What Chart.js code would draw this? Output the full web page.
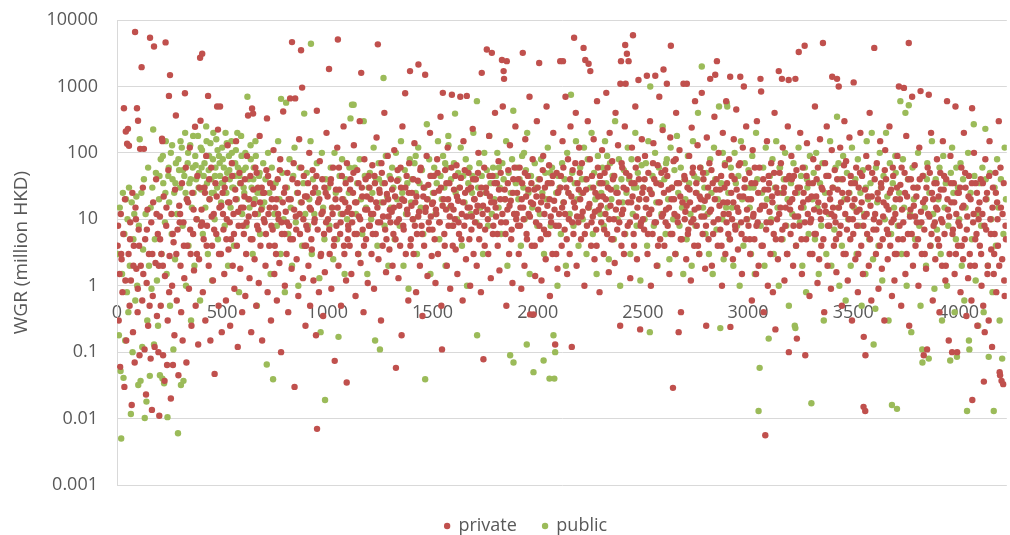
<!DOCTYPE html>
<html>
<head>
<meta charset="utf-8">
<script src="https://cdn.jsdelivr.net/npm/chart.js@4.4.1/dist/chart.umd.min.js"></script>
<style>
html,body{margin:0;padding:0;background:#fff;}
canvas{display:block;}
</style>
</head>
<body>
<canvas id="c" width="1010" height="535"></canvas>
<script>
const seriesNames = ['private', 'public'];
const seriesColors = ['#C0504D', '#9BBB59'];
const yTitle = 'WGR (million HKD)';
const xTicks = [0, 500, 1000, 1500, 2000, 2500, 3000, 3500, 4000];
const yTicks = [0.001, 0.01, 0.1, 1, 10, 100, 1000, 10000];
const yTickLabels = ['0.001', '0.01', '0.1', '1', '10', '100', '1000', '10000'];

const privatePoints = [
[3,4],[8,0.3],[12,1.5],[15,0.06],[18,12],[22,2.5],[26,0.8],[30,6],[33,470],[35,0.03],[38,20],[42,210],[44,0.15],[48,137],[52,230],[55,3],[57,128],[60,0.5],[63,9],[66,1.2],[70,0.016],[73,25],[76,0.2],[80,4],[84,0.07],[86,6600],[88,15],[92,1.8],[95,470],[98,0.4],
[100,305],[103,7],[107,0.09],[110,115],[113,2],[117,1950],[120,0.6],[123,30],[128,115],[131,0.11],[134,5],[138,0.023],[141,1.1],[145,14],[148,0.25],[152,3],[157,5400],[160,0.08],[163,9],[166,0.0135],[170,0.7],[172,18],[176,4000],[179,0.12],[183,2.2],[186,40],[190,0.35],[194,6],[197,0.1],
[201,0.011],[204,11],[208,0.5],[211,3],[214,163],[216,150],[219,0.09],[222,22],[226,0.037],[228,1.4],[231,4600],[234,8],[238,0.064],[241,0.3],[244,55],[247,720],[250,2.8],[252,1480],[256,0.02],[259,12],[262,1],[266,0.064],[269,4.5],[273,0.18],[276,28],[280,365],[284,0.6],[288,7],[292,0.045],[296,16],
[302,2],[305,0.4],[309,35],[312,0.15],[316,9],[320,1.3],[323,790],[327,60],[330,0.07],[334,4],[338,18],[342,0.9],[346,120],[350,3],[354,0.25],[358,25],[362,6],[366,1.7],[371,247],[374,0.5],[378,10],[382,45],[386,0.13],[390,2.5],[395,2700],[397,305],
[402,14],[405,3100],[408,0.8],[412,5],[416,30],[420,0.3],[424,90],[428,8],[433,720],[436,2],[440,20],[444,0.15],[448,60],[452,4],[456,1.2],[460,12],[464,0.047],[468,35],[472,6],[476,500],[480,224],[483,0.5],[487,15],[490,500],[494,3],[498,0.2],
[502,25],[506,7],[510,1.5],[514,40],[518,0.6],[522,10],[526,130],[530,3.5],[534,18],[538,0.25],[542,5],[546,70],[550,2],[554,12],[558,0.9],[562,28],[566,150],[570,4],[574,0.12],[578,8],[582,50],[586,1.8],[590,15],[595,0.4],
[603,6],[606,22],[610,0.7],[614,3],[618,90],[623,365],[626,11],[630,1.3],[634,45],[638,0.2],[642,465],[644,5],[647,390],[650,17],[654,2.5],[658,60],[662,0.5],[666,8],[670,30],[674,1.1],[678,180],[682,4],[686,14],[690,0.15],[695,25],
[702,9],[706,2],[710,55],[713,330],[716,0.8],[720,12],[724,4],[728,35],[732,0.3],[736,20],[740,7],[744,110],[748,1.5],[752,15],[756,3],[760,0.6],[764,40],[768,10],[772,2.2],[776,80],[780,0.1],[784,6],[790,420],[794,25],[798,1],
[802,13],[806,3],[810,50],[814,0.4],[818,8],[823,660],[826,20],[830,1.8],[832,4650],[836,5],[840,70],[844,0.03],[847,660],[850,11],[854,2.5],[858,35],[862,0.7],[866,160],[870,6],[875,3500],[878,18],[880,960],[884,1.3],[888,45],[892,4],[896,0.25],
[902,22],[906,7],[910,2],[914,100],[918,0.5],[922,14],[926,3.5],[930,55],[934,1.2],[938,9],[942,30],[946,0.18],[950,430],[951,0.007],[956,18],[960,0.8],[964,75],[968,2.8],[972,12],[976,40],[980,0.35],[984,6],[988,1.6],[992,25],[996,200],
[1003,10],[1008,1830],[1011,3],[1015,35],[1019,0.9],[1023,15],[1027,60],[1031,4],[1035,0.074],[1039,20],[1043,8],[1047,120],[1050,5100],[1053,2],[1057,28],[1061,6],[1065,0.5],[1069,45],[1073,12],[1077,250],[1081,3],[1085,18],[1089,1.2],[1092,0.035],[1093,70],[1097,5],
[1102,15],[1106,4],[1110,40],[1114,1.5],[1118,9],[1122,25],[1126,130],[1130,6],[1134,0.7],[1138,18],[1142,55],[1146,3],[1150,11],[1154,300],[1158,2.2],[1161,1600],[1164,30],[1168,7],[1172,0.4],[1176,80],[1180,14],[1184,5],[1188,22],[1192,1.1],[1196,45],
[1202,8],[1206,20],[1210,3],[1214,65],[1218,12],[1222,0.9],[1226,35],[1230,6],[1234,170],[1238,15],[1240,4300],[1243,2.5],[1247,28],[1251,9],[1255,0.3],[1259,50],[1263,4],[1267,18],[1271,400],[1275,7],[1279,1.6],[1283,24],[1287,90],[1291,11],[1295,3.5],
[1302,40],[1306,13],[1310,2],[1314,6],[1318,110],[1322,22],[1326,0.058],[1330,9],[1334,55],[1338,1.3],[1342,16],[1346,4],[1350,30],[1353,0.18],[1357,250],[1361,8],[1365,19],[1370,790],[1373,3],[1377,45],[1381,12],[1385,0.6],[1389,70],[1393,1700],[1397,5],
[1402,25],[1406,10],[1410,3],[1414,140],[1418,18],[1422,0.8],[1426,6],[1430,38],[1433,2140],[1436,13],[1440,2],[1444,60],[1448,8],[1452,0.35],[1456,22],[1460,4],[1465,1500],[1468,15],[1472,90],[1476,1.4],[1480,33],[1484,7],[1488,200],[1492,11],[1496,2.8],
[1502,18],[1506,45],[1510,5],[1514,1.1],[1518,12],[1522,80],[1526,3],[1530,27],[1534,9],[1538,350],[1542,0.5],[1545,0.11],[1549,800],[1552,20],[1556,6],[1560,55],[1564,14],[1568,2],[1572,120],[1576,8],[1580,35],[1584,0.9],[1588,16],[1592,750],[1596,4],
[1602,28],[1606,10],[1610,3.5],[1614,65],[1618,1.5],[1622,19],[1626,6],[1632,700],[1635,42],[1639,12],[1643,0.6],[1647,150],[1651,8],[1655,25],[1659,2.5],[1663,720],[1667,15],[1671,50],[1675,5],[1679,1],[1683,30],[1687,11],[1691,230],[1695,3],[1698,20],
[1702,9],[1706,40],[1710,2],[1714,16],[1718,100],[1722,5],[1726,24],[1730,0.8],[1734,1600],[1738,12],[1742,0.078],[1746,60],[1750,7],[1754,30],[1758,3600],[1761,14],[1765,3],[1769,180],[1773,22],[1777,1.3],[1782,3200],[1785,45],[1789,8],[1793,18],[1797,400],
[1802,11],[1806,35],[1810,4],[1814,75],[1818,1.7],[1822,20],[1826,9],[1830,2500],[1834,500],[1838,1700],[1840,1300],[1843,28],[1847,6],[1851,0.5],[1853,2400],[1856,14],[1860,55],[1864,3],[1868,130],[1872,19],[1876,7],[1880,1.1],[1884,40],[1888,12],[1894,250],
[1902,25],[1906,8],[1910,3],[1914,60],[1918,15],[1922,0.9],[1926,35],[1929,3200],[1933,10],[1937,2],[1941,160],[1945,22],[1949,5],[1953,45],[1957,12],[1961,700],[1964,0.37],[1968,18],[1972,4],[1976,80],[1980,0.37],[1984,28],[1988,1.4],[1992,9],[1996,300],
[2002,14],[2007,2250],[2010,40],[2014,5],[2018,1.2],[2022,22],[2026,90],[2030,7],[2034,30],[2038,2.5],[2042,500],[2046,16],[2050,6],[2054,65],[2058,0.7],[2062,11],[2066,35],[2070,3],[2074,200],[2078,19],[2083,0.13],[2086,8],[2090,50],[2094,1.8],[2098,26],
[2102,12],[2107,2400],[2110,45],[2114,4],[2118,150],[2120,2400],[2124,18],[2128,7],[2132,700],[2136,30],[2140,1.5],[2144,80],[2148,10],[2152,3],[2156,250],[2160,22],[2162,0.12],[2166,55],[2170,6],[2173,5400],[2177,15],[2181,400],[2185,2],[2189,35],[2193,9],[2197,120],
[2202,20],[2206,5],[2210,70],[2214,13],[2218,3800],[2222,1],[2226,2500],[2230,28],[2234,8],[2238,300],[2242,2200],[2246,17],[2250,1700],[2254,4],[2258,45],[2262,11],[2266,160],[2270,2.5],[2274,25],[2278,7],[2282,600],[2286,60],[2290,14],[2294,0.8],[2298,35],
[2302,9],[2306,110],[2310,22],[2314,3],[2318,50],[2322,12],[2326,800],[2330,6],[2334,30],[2338,1.6],[2342,200],[2346,16],[2350,5],[2354,75],[2358,40],[2362,10],[2366,2.2],[2370,400],[2374,25],[2378,7],[2382,130],[2386,18],[2392,0.25],[2393,1100],[2396,2400],[2398,4],
[2402,60],[2406,14],[2410,3],[2414,250],[2416,4200],[2418,1100],[2422,28],[2424,3100],[2428,8],[2432,2400],[2436,45],[2440,1.3],[2444,18],[2448,120],[2453,5900],[2456,6],[2460,35],[2464,500],[2468,11],[2472,2.5],[2476,80],[2479,1250],[2483,20],[2487,0.22],[2491,9],[2495,160],
[2502,30],[2506,7],[2510,90],[2514,15],[2519,1450],[2522,3],[2526,50],[2530,12],[2534,300],[2538,1],[2542,24],[2546,6],[2550,140],[2554,40],[2559,1450],[2562,9],[2566,2],[2570,65],[2574,18],[2578,700],[2582,5],[2586,33],[2590,11],[2594,220],[2598,1800],
[2602,4],[2606,55],[2610,14],[2614,1100],[2618,8],[2622,28],[2626,1.5],[2630,170],[2633,4100],[2636,20],[2640,6],[2643,0.029],[2646,75],[2650,12],[2654,3],[2658,400],[2662,35],[2666,9],[2670,0.2],[2674,110],[2678,22],[2681,0.4],[2685,5],[2693,1100],[2697,45],
[2702,13],[2706,2.5],[2709,1100],[2712,30],[2716,7],[2720,90],[2724,18],[2728,1.2],[2732,240],[2736,50],[2740,10],[2744,4],[2748,600],[2752,25],[2756,8],[2760,130],[2764,15],[2768,3],[2772,60],[2776,20],[2780,800],[2784,6],[2788,40],[2792,11],[2796,1.8],[2801,0.25],
[2804,170],[2808,22],[2812,5],[2816,70],[2820,1300],[2824,14],[2828,2],[2832,35],[2836,9],[2840,350],[2844,1500],[2848,28],[2852,2400],[2856,4],[2860,100],[2864,16],[2868,7],[2872,45],[2876,1],[2880,200],[2884,12],[2888,30],[2892,3],[2896,600],
[2902,18],[2906,6],[2910,80],[2915,1400],[2916,0.24],[2920,25],[2924,10],[2928,2.5],[2932,160],[2936,40],[2940,7],[2944,450],[2948,15],[2952,3.5],[2956,65],[2960,22],[2963,1400],[2967,9],[2971,1.5],[2975,120],[2980,1000],[2983,30],[2987,5],[2991,250],[2995,14],
[3002,8],[3006,50],[3010,3],[3014,20],[3018,0.6],[3022,110],[3026,12],[3030,5],[3034,35],[3038,1.5],[3042,300],[3046,9],[3050,2],[3054,60],[3059,1300],[3062,840],[3066,16],[3070,4],[3074,0.4],[3078,28],[3082,0.0056],[3086,7],[3090,150],[3094,1],[3098,45],
[3102,13],[3106,3],[3110,70],[3114,22],[3118,0.8],[3122,6],[3126,400],[3130,0.22],[3134,30],[3138,10],[3142,2.5],[3146,1700],[3150,50],[3154,15],[3158,5],[3161,1300],[3165,120],[3169,25],[3173,1.2],[3177,8],[3181,40],[3185,3],[3189,250],[3193,1250],[3194,0.1],[3198,18],
[3202,6],[3206,90],[3210,20],[3214,2],[3218,45],[3222,11],[3225,1300],[3228,4],[3232,0.16],[3236,30],[3241,3300],[3244,8],[3248,200],[3252,15],[3256,1.5],[3260,60],[3264,25],[3269,4100],[3272,0.09],[3276,5],[3280,140],[3284,12],[3288,35],[3292,0.7],[3296,9],
[3302,22],[3306,3],[3310,80],[3314,14],[3318,500],[3322,6],[3326,40],[3330,1.1],[3334,18],[3338,2.5],[3342,160],[3346,10],[3350,30],[3356,4500],[3358,5],[3362,0.4],[3366,70],[3370,13],[3374,250],[3378,2],[3382,45],[3386,8],[3390,20],[3394,0.9],[3398,110],
[3400,1400],[3404,15],[3408,4],[3412,55],[3416,9],[3420,1.6],[3423,1300],[3426,28],[3431,1000],[3434,6],[3438,120],[3442,18],[3446,0.5],[3450,40],[3454,3],[3458,300],[3462,12],[3466,75],[3470,7],[3474,1.2],[3478,25],[3482,170],[3486,5],[3490,35],[3494,0.3],[3498,10],
[3502,1150],[3506,20],[3510,2.5],[3514,60],[3518,8],[3522,0.8],[3526,30],[3530,14],[3534,200],[3538,4],[3542,45],[3546,1.5],[3549,0.015],[3550,0.17],[3553,11],[3557,0.013],[3558,0.09],[3562,90],[3566,6],[3570,22],[3574,2],[3578,400],[3582,16],[3586,0.6],[3590,50],[3596,7],
[3600,3800],[3604,12],[3608,3],[3612,70],[3616,25],[3620,0.9],[3624,9],[3628,150],[3632,35],[3636,1.8],[3640,5],[3644,18],[3648,0.3],[3652,110],[3656,40],[3660,7],[3664,2.5],[3668,14],[3672,250],[3676,4],[3680,28],[3684,0.7],[3688,60],[3692,10],[3696,1.2],
[3702,20],[3706,3],[3710,90],[3717,1000],[3720,8],[3724,33],[3728,0.5],[3732,14],[3736,5],[3741,950],[3744,50],[3748,1.5],[3752,180],[3756,22],[3760,6],[3764,4500],[3766,0.25],[3770,11],[3774,40],[3780,700],[3784,2],[3788,16],[3792,65],[3796,4],
[3802,9],[3806,30],[3810,1],[3814,120],[3820,850],[3822,13],[3826,3],[3830,45],[3835,0.09],[3838,7],[3842,20],[3846,1.8],[3851,0.11],[3854,60],[3859,750],[3862,11],[3866,4],[3870,200],[3874,25],[3878,0.6],[3882,8],[3886,35],[3890,2.5],[3894,15],[3898,80],
[3902,5],[3906,22],[3910,0.4],[3914,50],[3918,10],[3922,2],[3926,150],[3930,28],[3934,6],[3938,1.2],[3942,40],[3946,600],[3950,14],[3954,0.15],[3958,3],[3962,90],[3966,18],[3970,0.1],[3974,7],[3978,35],[3982,1.5],[3986,500],[3990,12],[3994,0.1],[3998,4],
[4002,25],[4006,8],[4010,0.8],[4014,60],[4018,15],[4022,2.5],[4026,200],[4030,5],[4034,30],[4038,0.35],[4042,11],[4046,1.3],[4050,45],[4054,3],[4058,20],[4062,0.6],[4065,470],[4066,0.019],[4070,9],[4074,100],[4078,2],[4082,35],[4086,6],[4090,0.25],[4094,14],
[4102,4],[4106,40],[4110,1],[4114,12],[4118,0.5],[4121,0.036],[4125,0.2],[4128,80],[4132,7],[4136,25],[4140,2],[4144,0.3],[4148,150],[4152,10],[4156,3.5],[4160,0.12],[4164,30],[4168,1.5],[4172,6],[4176,50],[4180,0.8],[4184,18],[4188,4],[4192,300],[4196,0.05],[4198,0.045],[4202,15],[4205,0.037],[4208,2.5],[4213,0.033],[4216,35],[4220,0.7],[4224,8],
[5,8],[20,3],[40,1.2],[62,5],[78,2],[90,10],[99,0.9],
[105,4],[125,1.5],[142,7],[155,0.5],[168,3],[188,12],[199,2],
[205,5],[218,2],[235,15],[248,0.8],[265,6],[282,3],[298,9],
[300,12],[318,4],[332,20],[348,7],[364,14],[380,3],[392,30],[399,8],
[404,9],[418,25],[426,4],[438,40],[450,11],[462,7],[474,22],[485,3],[496,16],
[504,12],[512,30],[520,5],[528,18],[536,9],[548,45],[556,6],[564,20],[576,13],[588,35],[598,8],
[601,15],[608,40],[616,9],[628,20],[636,5],[648,28],[656,12],[664,50],[672,7],[680,18],[688,30],[698,10],
[700,25],[708,6],[718,45],[726,15],[734,8],[742,30],[750,4],[758,20],[766,12],[774,55],[782,9],[788,18],[796,6],
[800,30],[808,9],[816,20],[824,5],[834,40],[842,14],[852,7],[860,25],[868,12],[876,60],[886,10],[894,22],[899,4],
[900,8],[908,35],[916,15],[924,5],[932,25],[940,10],[948,45],[954,7],[962,20],[970,3],[978,13],[986,30],[994,9],
[1001,22],[1009,7],[1017,40],[1025,12],[1033,5],[1041,28],[1049,15],[1055,60],[1063,9],[1071,20],[1079,4],[1087,35],[1095,13],[1099,8],
[1100,7],[1108,28],[1116,12],[1124,50],[1132,18],[1140,6],[1148,35],[1156,10],[1166,22],[1174,4],[1182,40],[1190,14],[1198,8],
[1200,30],[1208,12],[1216,6],[1224,45],[1232,18],[1241,9],[1249,25],[1257,70],[1265,11],[1273,35],[1281,5],[1289,20],[1297,14],
[1300,9],[1308,28],[1316,15],[1324,5],[1332,38],[1340,10],[1348,60],[1356,20],[1363,7],[1371,30],[1379,14],[1387,25],[1395,4],
[1400,16],[1408,40],[1416,8],[1424,22],[1432,11],[1442,55],[1450,6],[1458,30],[1466,13],[1474,20],[1482,9],[1490,45],[1498,17],
[1500,7],[1508,25],[1516,14],[1524,50],[1532,9],[1540,30],[1548,16],[1558,4],[1566,35],[1574,20],[1582,11],[1590,60],[1598,8],
[1600,14],[1608,45],[1616,22],[1624,9],[1630,30],[1637,5],[1645,18],[1653,55],[1661,11],[1669,28],[1677,15],[1685,7],[1693,40],
[1700,20],[1708,13],[1716,50],[1724,8],[1732,30],[1740,16],[1748,4],[1756,25],[1763,10],[1771,45],[1779,18],[1787,6],[1795,35],
[1800,15],[1808,6],[1816,28],[1824,50],[1832,12],[1845,20],[1849,9],[1858,35],[1866,16],[1874,5],[1882,25],[1890,60],[1898,10],
[1900,12],[1908,40],[1916,8],[1924,20],[1931,15],[1939,50],[1947,6],[1955,28],[1963,11],[1970,35],[1978,17],[1986,4],[1994,22],
[2000,30],[2008,8],[2016,18],[2024,55],[2032,12],[2040,6],[2048,35],[2056,20],[2064,9],[2072,45],[2080,14],[2088,3],[2096,25],
[2100,8],[2108,30],[2116,15],[2122,60],[2130,12],[2138,5],[2146,25],[2154,40],[2164,9],[2172,18],[2179,70],[2187,11],[2195,28],
[2200,50],[2208,11],[2216,25],[2224,6],[2232,40],[2240,15],[2248,80],[2256,9],[2264,30],[2272,13],[2280,4],[2288,22],[2296,45],
[2300,16],[2308,35],[2316,7],[2324,20],[2332,60],[2340,10],[2348,28],[2356,5],[2364,45],[2372,14],[2380,25],[2388,9],[2399,70],
[2400,12],[2408,30],[2412,6],[2420,50],[2430,18],[2438,9],[2446,35],[2451,22],[2458,4],[2466,60],[2474,15],[2481,40],[2489,8],[2497,25],
[2500,10],[2508,40],[2516,20],[2524,6],[2532,28],[2540,14],[2548,70],[2556,9],[2564,35],[2572,4],[2580,18],[2588,50],[2596,12],
[2600,25],[2608,9],[2616,45],[2624,15],[2632,6],[2638,30],[2648,20],[2656,80],[2664,11],[2672,35],[2680,5],[2688,18],[2699,10],
[2700,40],[2708,16],[2714,6],[2722,28],[2730,9],[2738,60],[2746,14],[2754,35],[2762,4],[2770,22],[2778,11],[2786,50],[2794,19],
[2800,8],[2810,30],[2818,13],[2826,55],[2834,6],[2842,20],[2850,40],[2858,10],[2866,28],[2874,4],[2882,18],[2890,65],[2898,9],
[2900,35],[2908,12],[2914,5],[2922,45],[2930,18],[2938,8],[2946,28],[2954,13],[2962,70],[2969,6],[2977,22],[2985,40],[2993,10],
[3000,20],[3008,5],[3016,35],[3024,11],[3032,60],[3040,8],[3048,25],[3056,14],[3064,4],[3072,40],[3080,16],[3088,9],[3096,28],
[3100,35],[3108,9],[3116,18],[3124,50],[3132,5],[3140,25],[3148,12],[3156,70],[3163,7],[3171,30],[3179,15],[3187,3],[3196,45],
[3200,14],[3208,40],[3216,8],[3224,25],[3230,55],[3238,11],[3246,30],[3254,5],[3262,18],[3270,9],[3278,45],[3286,20],[3294,3],
[3300,10],[3308,35],[3316,6],[3324,22],[3332,60],[3340,13],[3348,4],[3354,28],[3364,16],[3372,45],[3380,8],[3388,25],[3396,12],
[3402,30],[3410,11],[3418,5],[3424,40],[3432,15],[3440,8],[3448,25],[3456,65],[3464,3],[3472,20],[3480,10],[3488,45],[3496,16],
[3500,6],[3508,35],[3516,13],[3524,3],[3532,50],[3540,18],[3548,8],[3556,28],[3564,12],[3572,60],[3580,5],[3588,22],[3598,10],
[3602,40],[3610,7],[3618,20],[3626,4],[3634,30],[3642,11],[3650,55],[3658,16],[3666,6],[3674,25],[3682,9],[3690,45],[3698,3],
[3700,12],[3708,30],[3714,5],[3722,20],[3730,60],[3738,9],[3746,25],[3754,3],[3762,40],[3772,14],[3778,6],[3786,30],[3794,11],
[3800,22],[3808,5],[3816,40],[3824,9],[3832,18],[3840,3],[3848,30],[3856,12],[3864,50],[3872,6],[3880,20],[3888,9],[3896,35],
[3900,14],[3908,4],[3916,28],[3924,9],[3932,45],[3940,2],[3948,20],[3956,11],[3964,35],[3972,6],[3980,18],[3988,3],[3996,25],
[4000,9],[4008,30],[4016,4],[4024,16],[4032,50],[4040,7],[4048,22],[4056,2],[4064,35],[4072,12],[4080,5],[4088,25],[4096,10],
[4100,18],[4108,3],[4116,35],[4124,8],[4130,20],[4138,1.5],[4146,45],[4154,6],[4162,15],[4170,3],[4178,25],[4186,10],[4194,2],[4200,60],[4210,12],[4218,1.2],[4226,5]
];

const publicPoints = [
[4,3],[9,0.18],[13,15],[17,0.052],[20,0.005],[24,1.5],[28,25],[31,0.041],[35,6],[39,0.15],[43,20],[47,0.8],[50,10],[54,0.4],[57,30],[61,2],[66,0.0117],[70,18],[74,0.1],[78,5],[82,12],[87,0.6],[92,22],[96,1],
[101,0.032],[104,8],[108,160],[112,0.037],[116,25],[120,0.12],[124,3.5],[128,40],[132,0.0102],[136,12],[140,0.018],[144,0.3],[148,60],[152,2],[156,0.044],[160,15],[164,0.9],[168,30],[172,225],[176,0.13],[180,5],[185,50],[190,1.2],[195,0.25],
[200,20],[204,0.045],[208,80],[212,3],[216,0.04],[220,35],[224,0.034],[228,9],[232,150],[236,1.5],[240,0.0105],[244,45],[248,18],[252,0.5],[256,100],[260,6],[264,40],[268,0.11],[272,25],[276,2.5],[280,70],[285,12],[290,0.006],[295,55],
[300,30],[304,0.032],[308,120],[312,8],[316,0.037],[320,45],[324,200],[328,1],[332,20],[336,70],[340,4],[344,35],[348,130],[352,0.3],[356,15],[360,60],[364,25],[368,2],[372,90],[376,40],[380,10],[385,180],[390,50],[395,0.6],
[400,28],[404,110],[408,6],[412,45],[416,70],[420,15],[424,250],[428,35],[432,3],[436,55],[440,20],[444,140],[448,40],[452,1.2],[456,80],[460,25],[464,10],[468,60],[472,160],[476,30],[480,5],[485,90],[490,45],[495,18],
[500,120],[504,35],[508,60],[512,8],[516,200],[520,25],[524,50],[528,2],[532,90],[536,40],[540,15],[544,150],[548,30],[552,70],[556,4],[560,45],[565,110],[570,20],[575,60],[580,0.8],[585,35],[590,180],[595,12],
[600,55],[605,25],[610,100],[615,8],[620,700],[625,40],[630,15],[635,130],[640,30],[645,3],[650,60],[655,20],[660,90],[665,0.5],[670,12],[675,45],[680,6],[685,25],[695,70],
[700,18],[706,40],[712,0.065],[718,100],[724,25],[730,1.5],[736,60],[742,0.039],[748,12],[754,35],[760,8],[766,150],[772,20],[778,3],[780,650],[786,50],[792,10],[798,0.8],
[804,570],[808,30],[814,6],[820,80],[826,15],[832,2],[838,45],[844,120],[850,9],[856,25],[862,1],[868,60],[874,18],[880,4],[886,35],[890,390],[895,12],
[902,50],[908,8],[914,20],[920,150],[922,4400],[926,3],[932,40],[938,12],[950,70],[956,25],[962,1.3],[968,0.2],[974,100],[980,15],[986,5],[989,0.019],[992,40],
[1004,30],[1010,8],[1016,60],[1022,15],[1028,2.5],[1034,100],[1040,25],[1046,5],[1053,0.17],[1058,45],[1064,12],[1070,80],[1076,20],[1082,1.5],[1088,40],[1094,10],
[1102,25],[1110,330],[1117,530],[1125,530],[1130,60],[1136,12],[1142,35],[1148,3],[1154,80],[1160,20],[1166,6],[1173,300],[1178,45],[1184,15],[1190,1.5],[1196,30],
[1202,50],[1208,10],[1214,25],[1220,120],[1227,0.15],[1232,40],[1238,4],[1244,70],[1250,0.11],[1256,18],[1262,35],[1267,1340],[1272,8],[1278,90],[1284,22],[1290,2],[1296,45],
[1302,15],[1308,60],[1314,30],[1320,5],[1326,100],[1332,20],[1338,40],[1344,8],[1350,150],[1356,25],[1362,2],[1368,55],[1374,12],[1380,35],[1386,0.9],[1392,80],[1398,18],
[1402,40],[1408,10],[1414,70],[1420,25],[1426,3],[1432,120],[1438,35],[1444,15],[1450,55],[1456,6],[1462,30],[1465,0.039],[1473,270],[1478,20],[1484,80],[1490,1.5],[1496,45],
[1502,25],[1508,60],[1514,12],[1520,35],[1526,150],[1532,5],[1538,45],[1544,20],[1550,90],[1556,30],[1562,2],[1568,60],[1575,180],[1576,130],[1582,15],[1588,40],[1594,8],
[1602,70],[1607,390],[1610,25],[1616,10],[1622,50],[1628,30],[1634,120],[1640,4],[1646,45],[1652,18],[1658,80],[1664,1],[1670,35],[1676,60],[1682,12],[1688,25],[1694,200],
[1702,40],[1708,9],[1711,600],[1712,0.18],[1716,30],[1722,70],[1728,15],[1734,45],[1740,3],[1746,100],[1752,25],[1758,55],[1764,8],[1770,180],[1776,35],[1782,12],[1788,60],[1794,20],
[1802,45],[1808,100],[1814,15],[1820,30],[1826,6],[1832,70],[1838,40],[1844,20],[1850,150],[1856,2],[1862,50],[1869,0.09],[1872,25],[1878,80],[1884,430],[1885,0.07],[1890,12],[1896,35],
[1902,60],[1908,20],[1914,40],[1920,4],[1926,90],[1932,30],[1938,10],[1944,55],[1948,0.13],[1950,200],[1956,25],[1962,1.5],[1968,45],[1974,15],[1980,0.05],[1986,70],[1992,30],[1998,8],
[2004,40],[2010,12],[2016,80],[2022,25],[2028,0.075],[2030,3],[2036,50],[2042,20],[2048,120],[2054,35],[2056,0.04],[2062,8],[2068,60],[2075,0.18],[2079,0.04],[2083,0.1],[2088,25],[2094,1],[2098,45],
[2104,30],[2110,6],[2116,70],[2122,18],[2128,40],[2134,2],[2140,100],[2146,25],[2152,12],[2158,750],[2164,50],[2170,8],[2176,35],[2182,150],[2188,20],[2194,4],
[2202,60],[2208,25],[2214,10],[2220,120],[2226,40],[2232,3],[2238,80],[2244,15],[2250,30],[2256,200],[2262,6],[2268,50],[2274,20],[2280,1.5],[2286,90],[2292,35],[2298,12],
[2302,25],[2308,60],[2314,8],[2320,150],[2326,35],[2332,15],[2338,2.5],[2344,70],[2350,20],[2356,45],[2362,5],[2368,300],[2374,30],[2380,10],[2386,80],[2392,1],[2398,40],
[2404,18],[2410,55],[2416,6],[2422,25],[2428,120],[2434,40],[2440,3],[2446,80],[2452,12],[2458,30],[2464,200],[2470,8],[2476,50],[2482,20],[2488,1.2],[2494,65],
[2502,30],[2508,10],[2514,70],[2520,4],[2526,150],[2533,0.2],[2535,1000],[2540,25],[2546,45],[2552,8],[2558,100],[2564,18],[2570,2],[2576,60],[2582,35],[2588,12],[2594,250],
[2602,40],[2608,6],[2614,80],[2620,20],[2626,2.5],[2632,120],[2638,30],[2644,10],[2650,55],[2656,3],[2662,180],[2668,25],[2674,8],[2680,60],[2686,15],[2692,1.5],[2698,40],
[2702,20],[2708,5],[2714,90],[2720,35],[2726,12],[2732,2],[2738,150],[2744,45],[2750,8],[2756,25],[2762,400],[2768,3],[2774,60],[2780,2000],[2786,15],[2792,30],[2798,6],
[2802,50],[2808,12],[2814,3],[2820,80],[2826,25],[2832,1.5],[2838,120],[2844,40],[2850,7],[2856,20],[2862,500],[2868,0.23],[2872,35],[2878,10],[2884,2.5],[2890,70],[2896,15],
[2899,560],[2901,500],[2906,25],[2912,5],[2918,60],[2924,15],[2930,2],[2936,100],[2942,35],[2948,8],[2954,45],[2960,1],[2966,150],[2972,20],[2978,4],[2984,70],[2990,30],[2996,10],
[3002,55],[3008,15],[3014,3],[3020,90],[3026,30],[3032,1.5],[3038,200],[3044,40],[3050,0.013],[3055,0.058],[3060,8],[3066,25],[3072,60],[3078,2],[3084,120],[3090,20],[3098,0.16],
[3104,45],[3110,10],[3116,80],[3122,3],[3128,30],[3134,150],[3140,15],[3146,1],[3152,60],[3158,25],[3164,5],[3170,40],[3176,100],[3182,8],[3188,20],[3194,0.5],
[3204,35],[3210,12],[3216,70],[3222,0.25],[3225,0.23],[3228,4],[3234,25],[3240,120],[3246,9],[3252,45],[3258,2],[3264,15],[3270,60],[3276,0.8],[3282,30],[3288,6],[3294,90],[3301,0.017],
[3306,20],[3312,50],[3318,5],[3324,100],[3330,15],[3336,1.5],[3342,35],[3348,8],[3354,70],[3360,0.3],[3366,25],[3372,3],[3378,45],[3384,12],[3390,150],[3396,2],
[3404,30],[3410,7],[3416,60],[3423,350],[3428,15],[3434,1],[3440,40],[3446,4],[3452,90],[3458,20],[3464,0.6],[3470,50],[3476,10],[3482,25],[3488,2],[3494,120],
[3504,15],[3510,40],[3516,3],[3522,80],[3528,8],[3534,25],[3540,0.5],[3546,55],[3552,12],[3558,1.5],[3564,150],[3570,20],[3576,5],[3582,35],[3588,200],[3594,2.5],[3597,0.13],
[3605,0.45],[3608,60],[3614,18],[3620,4],[3626,100],[3632,30],[3638,1.2],[3644,45],[3650,10],[3656,200],[3662,22],[3668,0.3],[3674,70],[3680,6],[3684,0.016],[3688,35],[3694,15],
[3702,50],[3708,0.014],[3712,8],[3718,25],[3724,600],[3730,3],[3736,80],[3742,15],[3748,400],[3754,1],[3760,40],[3764,520],[3770,12],[3776,0.2],[3782,60],[3788,20],[3794,5],
[3802,30],[3808,100],[3814,8],[3820,0.5],[3828,0.11],[3829,0.07],[3834,45],[3840,15],[3846,2],[3852,70],[3859,0.08],[3862,25],[3868,4],[3874,150],[3880,12],[3886,0.9],[3892,40],[3898,7],
[3904,20],[3910,60],[3916,3],[3922,0.3],[3928,90],[3934,15],[3940,35],[3946,1],[3952,8],[3961,0.075],[3964,50],[3970,120],[3976,25],[3982,0.4],[3988,5],[3993,0.085],[3998,30],
[4004,10],[4010,70],[4016,2],[4022,40],[4028,0.6],[4034,15],[4041,0.013],[4046,100],[4050,0.15],[4052,0.11],[4058,25],[4064,5],[4073,270],[4076,45],[4082,1.2],[4088,12],[4094,0.25],
[4102,35],[4108,8],[4114,60],[4120,0.4],[4128,230],[4134,20],[4140,2],[4144,0.085],[4150,50],[4156,10],[4162,0.8],[4168,0.013],[4172,30],[4178,4],[4184,80],[4190,15],[4196,0.3],[4202,40],[4208,0.08],[4214,6],[4220,120],[4226,20],
[202,45],[218,90],[230,25],[246,60],[262,130],[278,35],[292,80],
[302,150],[314,55],[326,25],[338,100],[350,40],[362,180],[374,65],[388,30],[398,120],
[402,60],[414,30],[426,150],[438,90],[450,25],[458,200],[466,45],[478,110],[488,70],[498,35],
[503,80],[514,25],[522,140],[534,55],[546,100],[554,30],[562,70],[572,200],[582,45],[592,90],
[602,30],[612,60],[624,20],[636,80],[648,40],[658,150],[668,25],[678,50],[690,15],
[1105,60],[1245,40],[1420,90],[1560,70],[1690,45],[1815,60],[1935,100],[2060,50],[2210,40],[2330,90],[2470,30],[2610,70],[2760,40],[2880,100],[3010,30],[3150,60],[3280,40],[3430,70],[3560,30],[3700,90],[3850,40],[3990,60],[4130,40]
];

const textColor = '#595959';
const gridColor = '#D9D9D9';
Chart.defaults.font.family = "'Open Sans', 'DejaVu Sans', sans-serif";
Chart.defaults.color = textColor;

const toXY = pts => pts.map(p => ({x: p[0], y: p[1]}));

new Chart(document.getElementById('c'), {
  type: 'scatter',
  data: {
    datasets: [
      { label: seriesNames[0], data: toXY(privatePoints), backgroundColor: seriesColors[0], borderColor: seriesColors[0], borderWidth: 0, pointRadius: 3.2, pointHoverRadius: 3.2 },
      { label: seriesNames[1], data: toXY(publicPoints), backgroundColor: seriesColors[1], borderColor: seriesColors[1], borderWidth: 0, pointRadius: 3.2, pointHoverRadius: 3.2 }
    ]
  },
  options: {
    responsive: false,
    animation: false,
    devicePixelRatio: 1,
    layout: { padding: { top: 20, right: 3, bottom: -10, left: 45 } },
    plugins: {
      tooltip: { enabled: false },
      legend: {
        position: 'bottom',
        labels: {
          usePointStyle: true,
          pointStyle: 'circle',
          boxWidth: 4.5,
          boxHeight: 4.5,
          padding: 26,
          color: textColor,
          font: { size: 18 }
        }
      }
    },
    scales: {
      x: {
        type: 'linear',
        min: 0,
        max: 4230,
        position: { y: 1 },
        afterBuildTicks: s => { s.ticks = xTicks.map(v => ({ value: v })); },
        grid: { display: false, drawTicks: false },
        border: { display: false },
        ticks: { color: textColor, font: { size: 18 }, padding: 16, maxRotation: 0, autoSkip: false, callback: v => String(v) }
      },
      y: {
        type: 'logarithmic',
        min: 0.001,
        max: 10000,
        afterBuildTicks: s => { s.ticks = yTicks.map(v => ({ value: v })); },
        afterFit: s => { s.width = 72; },
        grid: { color: gridColor, lineWidth: 1, drawTicks: true, tickLength: 19, tickColor: 'rgba(0,0,0,0)' },
        border: { display: true, color: gridColor, width: 1 },
        ticks: {
          color: textColor,
          font: { size: 18 },
          padding: 0,
          autoSkip: false,
          callback: v => yTickLabels[yTicks.indexOf(v)]
        },
        title: {
          display: true,
          text: yTitle,
          color: textColor,
          font: { size: 19 },
          padding: { top: -35, bottom: 0 }
        }
      },
      xpad: {
        type: 'linear',
        axis: 'x',
        position: 'bottom',
        display: true,
        ticks: { display: false },
        grid: { display: false, drawTicks: false },
        border: { display: false },
        afterFit: s => { s.height = 6; }
      }
    }
  }
});
</script>
</body>
</html>
